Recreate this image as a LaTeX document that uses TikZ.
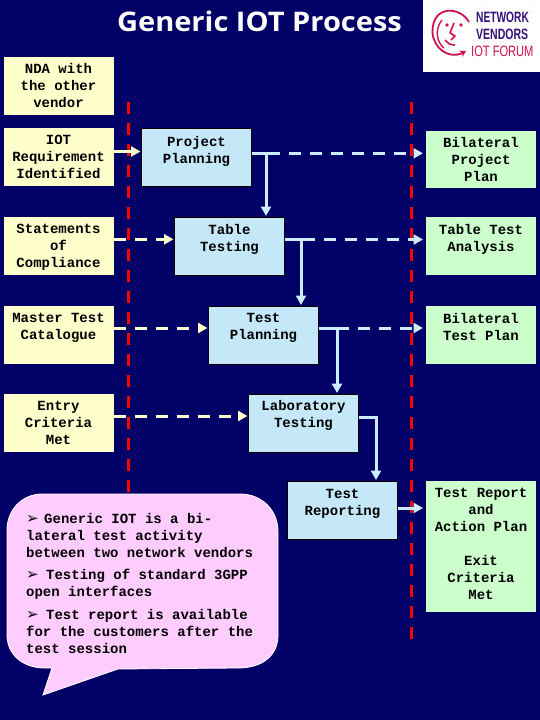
\documentclass[tikz,border=0pt]{standalone}
\usepackage{fontspec}
\usepackage{graphicx}
\usetikzlibrary{arrows.meta,calc}
\setmainfont{Liberation Mono}
\newfontfamily\titlefont{Open Sans}
\newfontfamily\logofont{Liberation Sans}
\newfontfamily\bulletfont{DejaVu Sans}
\definecolor{navy}{HTML}{000066}
\definecolor{ylw}{HTML}{FFFFCC}
\definecolor{grn}{HTML}{CCFFCC}
\definecolor{blu}{HTML}{C4E8F8}
\definecolor{arr}{HTML}{CCECFF}
\definecolor{pnk}{HTML}{FFCCFF}
\definecolor{crim}{HTML}{D0104F}
\definecolor{purp}{HTML}{35107A}
\newcommand{\btxt}[3]{\parbox[c][#1pt][t]{110pt}{\centering\fontsize{14}{17}\bfseries\selectfont\vspace*{#2pt}#3\par}}
\newcommand{\bul}{\makebox[18pt][l]{\smash{\bulletfont\fontsize{15}{15}\selectfont ➢}}}
\tikzset{
  x=1pt,y=-1pt,
  ybox/.style={fill=ylw,inner sep=0pt,outer sep=0pt,text=black},
  gbox/.style={fill=grn,inner sep=0pt,outer sep=0pt,text=black},
  bbox/.style={fill=blu,draw=black,line width=1pt,inner sep=0pt,outer sep=0pt,text=black},
  redline/.style={draw=red,line width=3pt,dash pattern=on 12pt off 9pt},
  solidy/.style={draw=ylw,line width=3pt,shorten >=1pt,-{Triangle[length=9.5pt,width=10pt]}},
  dashy/.style={solidy,dash pattern=on 12pt off 9pt},
  solidb/.style={draw=arr,line width=3pt,shorten >=1pt,-{Triangle[length=9.5pt,width=10pt]}},
  dashb/.style={solidb,shorten >=3pt,dash pattern=on 12pt off 9pt},
  stub/.style={draw=arr,line width=3pt},
  ctext/.style={inner sep=0pt,anchor=north west,text=black,align=left,font=\fontsize{14}{17}\bfseries\selectfont},
}
\begin{document}
\begin{tikzpicture}
\fill[navy] (0,0) rectangle (540,720);
\useasboundingbox (0,0) rectangle (540,720);
% logo
\fill[white] (423,0) rectangle (540,72);
\foreach \i in {0,...,11} \foreach \j in {0,...,7} \fill[black!22] (427+9.6*\i,3+9.6*\j) circle (.4pt);
\draw[crim,line width=1.8pt,-{Stealth[length=6pt,width=7pt]}] (469,22) .. controls (460,6) and (432,5) .. (432.5,32) .. controls (433,48) and (449,60) .. (466,51);
\draw[crim,line width=1.4pt] (442,20) .. controls (435,28) and (436,42) .. (444,48);
\fill[crim] (447,25) circle (1.8pt) (461,25) circle (1.8pt);
\draw[crim,line width=1.6pt,line join=round] (454,23) -- (450,33) -- (455,36) -- (451,40);
\draw[crim,line width=1.6pt] (445,40) .. controls (447,43) and (450,45) .. (455,45);
\node[text=purp,anchor=west,inner sep=0pt] (lg1) at (476,17) {\logofont\fontsize{15}{15}\bfseries\selectfont\scalebox{.68}[1]{NETWORK}};
\node[text=purp,anchor=west,inner sep=0pt] (lg2) at (476,34) {\logofont\fontsize{15}{15}\bfseries\selectfont\scalebox{.7}[1]{VENDORS}};
\node[text=crim,anchor=west,inner sep=0pt] (lg3) at (471,51) {\logofont\fontsize{15}{15}\selectfont\scalebox{.74}[1]{IOT FORUM}};
% title
\node[text=white,inner sep=0pt] (t) at (259.5,21) {\titlefont\fontsize{27}{27}\bfseries\selectfont\scalebox{1.075}[1]{Generic IOT Process}};
% red lines
\coordinate (r1a) at (128,102); \coordinate (r1b) at (128,492);
\coordinate (r2a) at (411,102); \coordinate (r2b) at (411,639);
\draw[redline] (r1a) -- (r1b);
\draw[redline] (r2a) -- (r2b);
% left
\node[ybox] (nda) at (58.5,86) {\btxt{58}{6}{NDA with\\the other\\vendor}};
\node[ybox] (iot) at (58.5,157) {\btxt{58}{7}{IOT\\Requirement\\Identified}};
\node[ybox] (soc) at (58.5,246) {\btxt{58}{7}{Statements\\of\\Compliance}};
\node[ybox] (mtc) at (58.5,335) {\btxt{58}{7}{Master Test\\Catalogue}};
\node[ybox] (ecm) at (58.5,423) {\btxt{58}{7}{Entry\\Criteria\\Met}};
% centre
\node[bbox] (pp) at (196.5,157) {\btxt{58}{8}{Project\\Planning}};
\node[bbox] (tt) at (229.5,246) {\btxt{58}{7}{Table\\Testing}};
\node[bbox] (tp) at (263.5,335) {\btxt{58}{7}{Test\\Planning}};
\node[bbox] (lt) at (303.5,423) {\btxt{58}{6}{Laboratory\\Testing}};
\node[bbox] (tr) at (342.5,510) {\btxt{58}{8}{Test\\Reporting}};
% right
\node[gbox] (bpp) at (481,159.5) {\btxt{57}{6}{Bilateral\\Project\\Plan}};
\node[gbox] (tta) at (481,246) {\btxt{58}{7}{Table Test\\Analysis}};
\node[gbox] (btp) at (481,335) {\btxt{58}{7}{Bilateral\\Test Plan}};
\node[gbox] (trp) at (481,546.5) {\btxt{131}{7}{Test Report\\and\\Action Plan\\[17pt]Exit\\Criteria\\Met}};
% junctions
\coordinate (y1) at (128,151.5);
\coordinate (y2) at (128,239.3);
\coordinate (y3) at (128,328);
\coordinate (y4) at (128,416);
\coordinate (j1) at (266,153.3);
\coordinate (j2) at (301,239.5);
\coordinate (j3) at (337,328);
\coordinate (j4) at (376,417);
\coordinate (j5) at (400,508);
% connectors
\draw[solidy] (iot.east|-y1) -- (pp.west|-y1);
\draw[dashy] (soc.east|-y2) -- (tt.west|-y2);
\draw[dashy] (mtc.east|-y3) -- (tp.west|-y3);
\draw[dashy] (ecm.east|-y4) -- (lt.west|-y4);
\draw[dashb,dash phase=5pt] (pp.east|-j1) -- (bpp.west|-j1);
\draw[stub] (pp.east|-j1) -- ++(28,0);
\draw[solidb] (j1) -- (j1|-tt.north);
\draw[dashb,dash phase=3pt] (tt.east|-j2) -- (tta.west|-j2);
\draw[stub] (tt.east|-j2) -- ++(29,0);
\draw[solidb] (j2) -- (j2|-tp.north);
\draw[dashb,dash phase=3pt] (tp.east|-j3) -- (btp.west|-j3);
\draw[stub] (tp.east|-j3) -- ++(29,0);
\draw[solidb] (j3) -- (j3|-lt.north);
\draw[solidb] (lt.east|-j4) -- (j4) -- (j4|-tr.north);
\draw[solidb,shorten >=3pt] (tr.east|-j5) -- (trp.west|-j5);
% callout
\fill[pnk,draw=white,line width=.8pt] (42,494) -- (240,494) .. controls (262,494) and (278,510) .. (278,532) -- (278,635) .. controls (278,656) and (262,668) .. (238,668) -- (118,669) -- (43,695) -- (52,668) -- (45,668) .. controls (22,668) and (7,654) .. (7,635) -- (7,530) .. controls (7,510) and (22,494) .. (42,494) -- cycle;
\node[ctext] (c1) at (26,513) {\bul Generic IOT is a bi-\\lateral test activity\\between two network vendors};
\node[ctext] (c2) at (26,569) {\makebox[20pt][l]{\bul}Testing of standard 3GPP\\open interfaces};
\node[ctext] (c3) at (26,609) {\makebox[20pt][l]{\bul}Test report is available\\for the customers after the\\test session};
\end{tikzpicture}
\end{document}
